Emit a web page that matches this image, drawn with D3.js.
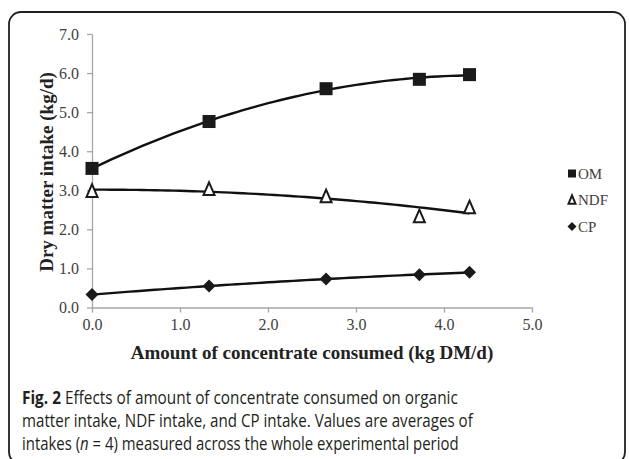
<!DOCTYPE html>
<html><head><meta charset="utf-8">
<script src="https://cdn.jsdelivr.net/npm/d3@7"></script>
<style>html,body{margin:0;padding:0;background:#fff;}svg{display:block;}</style>
</head><body>
<script>
// ---- data ----
const concentrate = [0.0, 1.33, 2.66, 3.72, 4.29];
const omIntake  = [3.56, 4.76, 5.60, 5.84, 5.96];
const ndfIntake = [2.98, 3.03, 2.84, 2.33, 2.56];
const cpIntake  = [0.33, 0.55, 0.73, 0.84, 0.90];
const seriesNames = ["OM", "NDF", "CP"];
const xTicks = [0, 1, 2, 3, 4, 5];
const yTicks = [0, 1, 2, 3, 4, 5, 6, 7];
const xTitle = "Amount of concentrate consumed (kg DM/d)";
const yTitle = "Dry matter intake (kg/d)";
const captionBold = "Fig. 2";
const captionLines = [
  " Effects of amount of concentrate consumed on organic",
  "matter intake, NDF intake, and CP intake. Values are averages of",
  ["intakes (", "n", " = 4) measured across the whole experimental period"]
];

const W = 629, H = 459;
const svg = d3.select("body").append("svg").attr("width", W).attr("height", H);

// frame
svg.append("rect").attr("x", 9).attr("y", 12).attr("width", 616).attr("height", 452)
  .attr("rx", 12).attr("ry", 12).attr("fill", "none").attr("stroke", "#231f20").attr("stroke-width", 1.8);

const x = d3.scaleLinear().domain([0, 5]).range([92, 532]);
const y = d3.scaleLinear().domain([0, 7]).range([307.5, 34]);

const serif = "'Liberation Serif','Times New Roman',serif";
const axisColor = "#a6a6a6";
const labelColor = "#404040";

// axes
const gx = svg.append("g").attr("transform", `translate(0,${y(0)})`)
  .call(d3.axisBottom(x).tickValues(xTicks).tickFormat(d3.format(".1f")).tickSizeInner(5).tickSizeOuter(0).tickPadding(6));
const gy = svg.append("g").attr("transform", `translate(${x(0)},0)`)
  .call(d3.axisLeft(y).tickValues(yTicks).tickFormat(d3.format(".1f")).tickSizeInner(5).tickSizeOuter(0).tickPadding(8));
[gx, gy].forEach(g => {
  g.select(".domain").attr("stroke", axisColor).attr("stroke-width", 1.3);
  g.selectAll(".tick line").attr("stroke", axisColor).attr("stroke-width", 1.3);
  g.selectAll(".tick text").attr("font-family", serif).attr("font-size", 16).attr("fill", labelColor);
});

// titles
svg.append("text").attr("x", 312).attr("y", 359).attr("text-anchor", "middle")
  .attr("font-family", serif).attr("font-weight", "bold").attr("font-size", 19).attr("fill", "#222")
  .text(xTitle);
svg.append("text").attr("transform", "translate(53,172) rotate(-90)").attr("text-anchor", "middle")
  .attr("font-family", serif).attr("font-weight", "bold").attr("font-size", 19).attr("fill", "#222")
  .text(yTitle);

// quadratic trendline (least squares) from the plotted values
function quadFit(xs, ys) {
  let S = [[0,0,0],[0,0,0],[0,0,0]], b = [0,0,0];
  xs.forEach((xi, i) => {
    const p = [1, xi, xi*xi];
    for (let r = 0; r < 3; r++) { b[r] += p[r]*ys[i]; for (let c = 0; c < 3; c++) S[r][c] += p[r]*p[c]; }
  });
  const A = S.map((row, i) => row.concat([b[i]]));
  for (let i = 0; i < 3; i++) {
    for (let k = i+1; k < 3; k++) {
      const f = A[k][i]/A[i][i];
      for (let j = i; j < 4; j++) A[k][j] -= f*A[i][j];
    }
  }
  const c = [0,0,0];
  for (let i = 2; i >= 0; i--) {
    let s = A[i][3];
    for (let j = i+1; j < 3; j++) s -= A[i][j]*c[j];
    c[i] = s/A[i][i];
  }
  return t => c[0] + c[1]*t + c[2]*t*t;
}

const seriesData = [omIntake, ndfIntake, cpIntake];
const line = d3.line().x(d => x(d[0])).y(d => y(d[1]));
seriesData.forEach(vals => {
  const f = quadFit(concentrate, vals);
  const x0 = concentrate[0], x1 = concentrate[concentrate.length-1];
  const xs = d3.range(0, 61).map(i => x0 + (x1 - x0)*i/60);
  svg.append("path").attr("d", line(xs.map(t => [t, f(t)])))
    .attr("fill", "none").attr("stroke", "#111").attr("stroke-width", 2.4);
});

// markers
function drawMarker(g, kind, cx, cy, s) {
  if (kind === "OM") {
    g.append("rect").attr("x", cx - s/2).attr("y", cy - s/2).attr("width", s).attr("height", s).attr("fill", "#1a1a1a");
  } else if (kind === "NDF") {
    const h = s*1.05;
    g.append("path").attr("d", `M${cx},${cy - h/2} L${cx + s/2 - 1},${cy + h/2 - 1} L${cx - s/2 + 1},${cy + h/2 - 1} Z`)
      .attr("fill", "#fff").attr("stroke", "#1a1a1a").attr("stroke-width", 2).attr("stroke-linejoin", "miter");
  } else {
    g.append("path").attr("d", `M${cx},${cy - s/2} L${cx + s/2},${cy} L${cx},${cy + s/2} L${cx - s/2},${cy} Z`)
      .attr("fill", "#1a1a1a");
  }
}
const mg = svg.append("g");
seriesData.forEach((vals, si) => {
  vals.forEach((v, i) => drawMarker(mg, seriesNames[si], x(concentrate[i]), y(v), 13));
});

// legend
const legendY = [173.5, 200, 226.5];
seriesNames.forEach((n, i) => {
  drawMarker(svg, n, 572, legendY[i], n === "OM" ? 8 : 9);
  svg.append("text").attr("x", 578).attr("y", legendY[i] + 5).attr("font-family", serif)
    .attr("font-size", 15).attr("fill", labelColor).text(n);
});

// caption (condensed by horizontal scaling to the reference line widths)
const sans = "'Open Sans','Noto Sans',sans-serif";
const capColor = "#231f20";
const capBase = [404, 427, 450];
const capWidths = [436, 451, 437];
function capLine(i, build) {
  const g = svg.append("g");
  const t = g.append("text").attr("x", 0).attr("y", 0).attr("font-family", sans)
    .attr("font-size", 17.5).attr("fill", capColor);
  build(t);
  const len = t.node().getComputedTextLength();
  g.attr("transform", `translate(22,${capBase[i]}) scale(${capWidths[i]/len},1)`);
}
capLine(0, t => { t.append("tspan").attr("font-weight", "bold").text(captionBold); t.append("tspan").text(captionLines[0]); });
capLine(1, t => t.text(captionLines[1]));
capLine(2, t => captionLines[2].forEach((s, i) => t.append("tspan").attr("font-style", i === 1 ? "italic" : null).text(s)));
</script>
</body></html>
